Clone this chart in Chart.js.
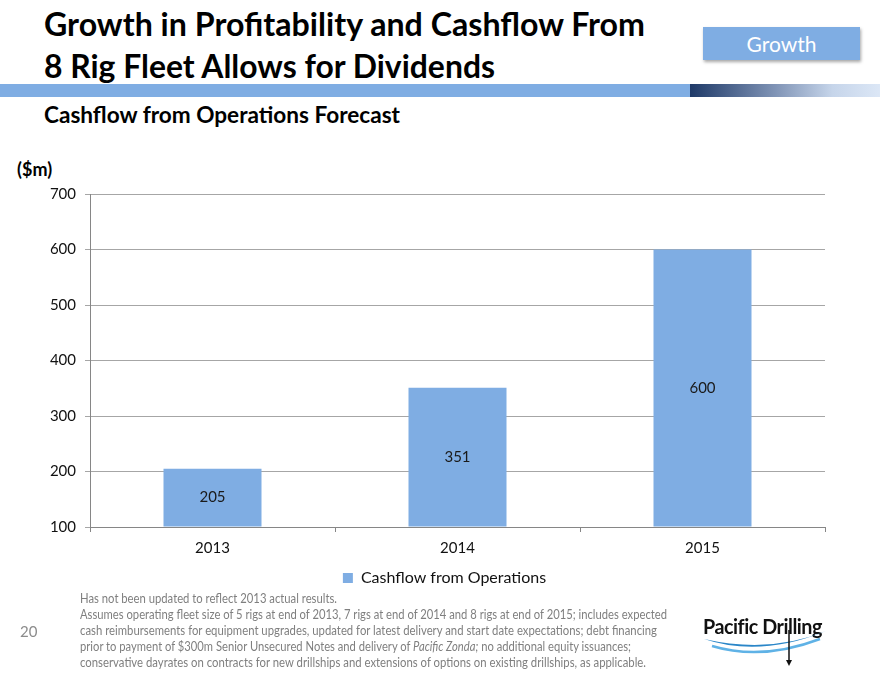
<!DOCTYPE html>
<html>
<head>
<meta charset="utf-8">
<script src="https://cdn.jsdelivr.net/npm/chart.js@4.4.1/dist/chart.umd.min.js"></script>
<style>
  body { margin: 0; width: 880px; height: 680px; position: relative; background: #fff; font-family: Lato, "Open Sans", sans-serif; overflow: hidden; }
  .abs { position: absolute; white-space: nowrap; transform-origin: 0 0; }
  .title { left: 44px; font-weight: bold; font-size: 32px; color: #000; line-height: 1; }
  .sub { left: 44px; top: 100px; font-weight: bold; font-size: 23px; color: #000; }
  .tag { left: 703px; top: 27px; width: 157px; height: 33px; background: #7fade3; color: #fff; font-size: 21px; text-align: center; line-height: 33px; box-shadow: 1px 2px 3px rgba(0,0,0,0.35); }
  .band { left: 0; top: 84px; width: 690px; height: 13px; background: #7fade3; }
  .band2 { left: 690px; top: 84px; width: 190px; height: 13px; background: linear-gradient(to right, #1f3a68, #8094b6 45%, #c6d5ea 75%, #dce7f6); }
  .unit { left: 17px; top: 158px; font-weight: bold; font-size: 18px; }
  .note { left: 80px; font-size: 13.5px; color: #7f7f7f; }
  .page { left: 20px; top: 622px; font-size: 15px; color: #8c8c8c; }
  .logo { left: 703px; top: 613px; font-size: 21px; font-weight: bold; color: #111; letter-spacing: -0.5px; }
  #wrap { position: absolute; left: 0; top: 176px; width: 880px; height: 420px; }
</style>
</head>
<body>
<div class="abs title fit" data-w="601" style="top:8px">Growth in Profitability and Cashflow From</div>
<div class="abs title fit" data-w="451" style="top:50px">8 Rig Fleet Allows for Dividends</div>
<div class="abs tag">Growth</div>
<div class="abs band"></div>
<div class="abs band2"></div>
<div class="abs sub fit" data-w="356">Cashflow from Operations Forecast</div>
<div class="abs unit">($m)</div>

<div id="wrap"><canvas id="chart"></canvas></div>

<div class="abs note fit" data-w="257" style="top:590px">Has not been updated to reflect 2013 actual results.</div>
<div class="abs note fit" data-w="587" style="top:606px">Assumes operating fleet size of 5 rigs at end of 2013, 7 rigs at end of 2014 and 8 rigs at end of 2015; includes expected</div>
<div class="abs note fit" data-w="577" style="top:622px">cash reimbursements for equipment upgrades, updated for latest delivery and start date expectations; debt financing</div>
<div class="abs note fit" data-w="551" style="top:638px">prior to payment of $300m Senior Unsecured Notes and delivery of <i>Pacific Zonda;</i> no additional equity issuances;</div>
<div class="abs note fit" data-w="566" style="top:654px">conservative dayrates on contracts for new drillships and extensions of options on existing drillships, as applicable.</div>
<div class="abs page">20</div>
<div class="abs logo fit" data-w="119">Pacific Drilling</div>
<svg class="abs" style="left:700px;top:628px" width="130" height="40">
  <path d="M4 11 Q60 30 126 3 Q70 26 4 11 Z" fill="#2a86c8"/>
  <path d="M12 18 Q62 33 120 11" stroke="#5fb2e6" stroke-width="2.5" fill="none"/>
  <line x1="89" y1="2" x2="89" y2="34" stroke="#111" stroke-width="1.5"/>
  <path d="M86 32 L92 32 L89 38 Z" fill="#111"/>
</svg>

<script>
// chart data
const years = ['2013', '2014', '2015'];
const cashflow = [205, 351, 600];
const seriesName = 'Cashflow from Operations';
const yTicks = [100, 200, 300, 400, 500, 600, 700];

// squeeze text blocks to the widths measured on the slide
document.querySelectorAll('.fit').forEach(function(el) {
    const w = el.getBoundingClientRect().width;
    const target = parseFloat(el.dataset.w);
    if (w > 0) el.style.transform = 'scaleX(' + (target / w) + ')';
});

// value labels in the middle of each bar
const barLabels = {
    id: 'barLabels',
    afterDatasetsDraw(chart) {
        const ctx = chart.ctx;
        const meta = chart.getDatasetMeta(0);
        ctx.save();
        ctx.font = '15px Lato, "Open Sans", sans-serif';
        ctx.fillStyle = '#1a1a1a';
        ctx.textAlign = 'center';
        ctx.textBaseline = 'middle';
        meta.data.forEach(function(bar, i) {
            ctx.fillText(String(cashflow[i]), bar.x, (bar.y + bar.base) / 2);
        });
        ctx.restore();
    }
};

// the slide's legend sits a bit right of the canvas centre
const legendShift = {
    id: 'legendShift',
    afterLayout(chart) {
        chart.legend.left += 32;
        chart.legend.right += 32;
    }
};

new Chart(document.getElementById('chart'), {
    type: 'bar',
    data: {
        labels: years,
        datasets: [{
            label: seriesName,
            data: cashflow,
            base: yTicks[0],
            backgroundColor: '#7fade3',
            borderWidth: 0,
            categoryPercentage: 0.8,
            barPercentage: 0.5
        }]
    },
    options: {
        responsive: true,
        maintainAspectRatio: false,
        animation: false,
        layout: { padding: { top: 5, right: 55, left: 0, bottom: 0 } },
        plugins: {
            legend: {
                position: 'bottom',
                labels: {
                    boxWidth: 10,
                    boxHeight: 10,
                    padding: 10,
                    color: '#111',
                    font: { size: 16, family: 'Lato, "Open Sans", sans-serif' }
                }
            },
            tooltip: { enabled: false }
        },
        scales: {
            x: {
                afterFit: function(scale) { scale.height = 33; },
                grid: { offset: true, drawOnChartArea: false, tickLength: 5, color: '#868686' },
                border: { color: '#868686' },
                ticks: { color: '#111', padding: 7, font: { size: 15, family: 'Lato, "Open Sans", sans-serif' } }
            },
            y: {
                min: yTicks[0],
                max: yTicks[yTicks.length - 1],
                afterFit: function(scale) { scale.width = 90; },
                afterBuildTicks: function(scale) { scale.ticks = yTicks.map(v => ({ value: v })); },
                grid: { color: '#a6a6a6', tickLength: 5 },
                border: { color: '#868686' },
                ticks: { color: '#111', padding: 9, font: { size: 15, family: 'Lato, "Open Sans", sans-serif' } }
            }
        }
    },
    plugins: [barLabels, legendShift]
});
</script>
</body>
</html>
